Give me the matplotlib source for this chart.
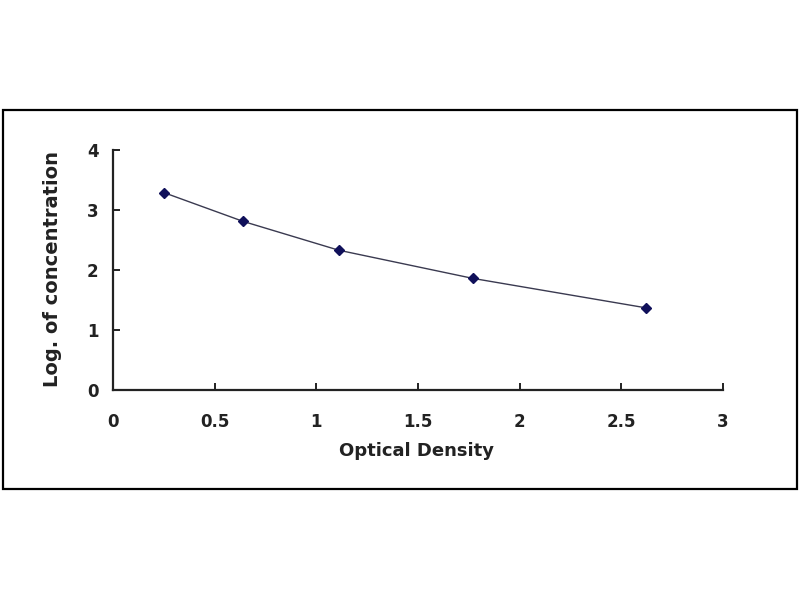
import matplotlib.pyplot as plt
from matplotlib.patches import Rectangle

# values
optical_density = [0.25, 0.64, 1.11, 1.77, 2.62]
log_concentration = [3.29, 2.81, 2.33, 1.86, 1.37]
x_ticks = [0, 0.5, 1, 1.5, 2, 2.5, 3]
x_tick_labels = ['0', '0.5', '1', '1.5', '2', '2.5', '3']
y_ticks = [0, 1, 2, 3, 4]

plt.rcParams['font.family'] = ['DejaVu Sans']
plt.rcParams['font.weight'] = 'bold'

fig = plt.figure(figsize=(8, 6), dpi=100)
fig.patch.set_facecolor('white')

# outer frame around the chart area
fig.patches.append(Rectangle((3 / 800, 111 / 600), 794 / 800, 379 / 600,
                             transform=fig.transFigure, fill=False,
                             edgecolor='black', linewidth=1.6))

ax = fig.add_axes([0.14125, 0.35, 0.7625, 0.4])
ax.plot(optical_density, log_concentration, color='#3a3a50', linewidth=1,
        marker='D', markersize=5, markerfacecolor='#10105a', markeredgecolor='#10105a')

ax.set_xlim(0, 3)
ax.set_ylim(0, 4)
ax.set_xticks(x_ticks)
ax.set_xticklabels(x_tick_labels)
ax.set_yticks(y_ticks)

for side in ['top', 'right']:
    ax.spines[side].set_visible(False)
for side in ['left', 'bottom']:
    ax.spines[side].set_linewidth(1.6)
    ax.spines[side].set_color('#222222')

ax.tick_params(axis='x', direction='in', length=5, width=1.4, pad=16.5, labelsize=12, colors='#222222')
ax.tick_params(axis='y', direction='in', length=5, width=1.4, pad=10.5, labelsize=12, colors='#222222')
for lbl in ax.get_xticklabels() + ax.get_yticklabels():
    lbl.set_fontweight('bold')

ax.set_xlabel('Optical Density', fontsize=13, fontweight='bold', color='#222222')
ax.xaxis.set_label_coords(0.497, -0.217)
ax.set_ylabel('Log. of concentration', fontsize=14, fontweight='bold', color='#222222')
ax.yaxis.set_label_coords(-0.084, 0.505)

fig.savefig('out.png', dpi=100, facecolor='white')
